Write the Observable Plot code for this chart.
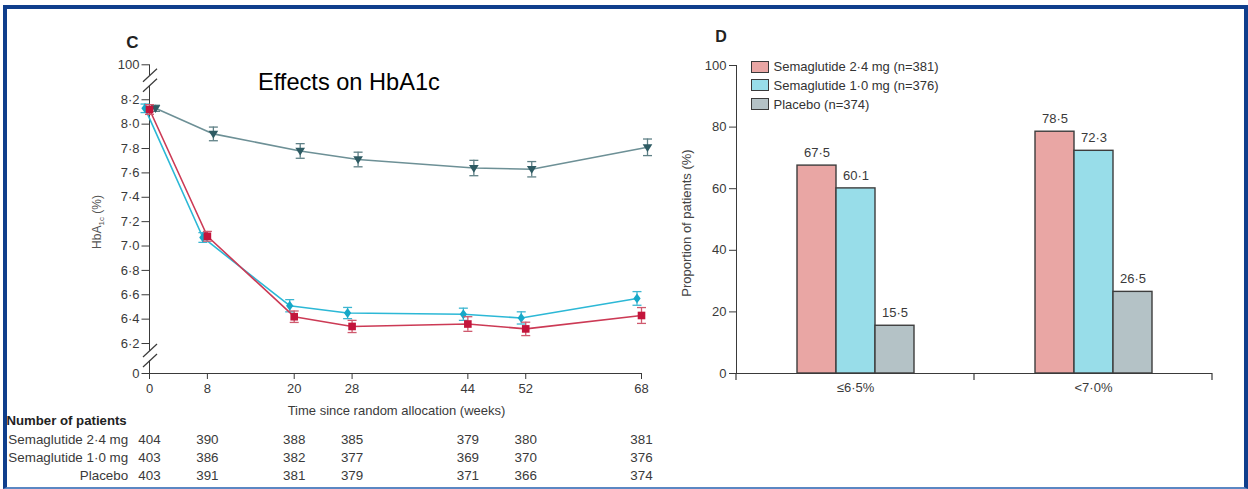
<!DOCTYPE html>
<html>
<head>
<meta charset="utf-8">
<script src="https://cdn.jsdelivr.net/npm/d3@7"></script>
<script src="https://cdn.jsdelivr.net/npm/@observablehq/plot@0.6"></script>
<style>
  html, body { margin: 0; padding: 0; background: #fff; width: 1248px; height: 489px; overflow: hidden;
    font-family: "Liberation Sans", Arial, sans-serif; }
  #frame { position: absolute; left: 3px; top: 5px; width: 1245px; height: 484px; box-sizing: border-box;
    border: 4px solid #0f3e8c; border-bottom: 2px solid #5b87c3; }
  .lg-row { position: absolute; display: flex; align-items: center; height: 18px; font-size: 13px; color: #333; white-space: nowrap; }
  .lg-sw { width: 18px; height: 12px; box-sizing: border-box; border: 1.4px solid #3a3a3a; margin-right: 5px; }
</style>
</head>
<body>
<div id="frame"></div>
<script>
// ---------------- Data ----------------
const weeks = [0, 8, 20, 28, 44, 52, 68];
const seriesNames = ["Semaglutide 2·4 mg", "Semaglutide 1·0 mg", "Placebo"];

// Panel C: mean HbA1c (%) and error-bar half widths
const hba1c_sema24  = [8.12, 7.08, 6.42, 6.34, 6.36, 6.32, 6.43];
const hba1c_sema10  = [8.13, 7.07, 6.51, 6.45, 6.44, 6.41, 6.57];
const hba1c_placebo = [8.13, 7.92, 7.78, 7.71, 7.64, 7.63, 7.81];
const err_sema24  = [0.04, 0.04, 0.047, 0.05, 0.06, 0.055, 0.065];
const err_sema10  = [0.035, 0.04, 0.05, 0.046, 0.05, 0.05, 0.056];
const err_placebo = [0.025, 0.056, 0.06, 0.06, 0.063, 0.063, 0.068];

// Number of patients at each visit
const n_sema24  = [404, 390, 388, 385, 379, 380, 381];
const n_sema10  = [403, 386, 382, 377, 369, 370, 376];
const n_placebo = [403, 391, 381, 379, 371, 366, 374];

// Axis ticks (panel C has a broken axis: 0 … 6·2–8·2 … 100)
const yTicksC = [0, 6.2, 6.4, 6.6, 6.8, 7.0, 7.2, 7.4, 7.6, 7.8, 8.0, 8.2, 100];
const xTicksC = [0, 8, 20, 28, 44, 52, 68];

// Panel D: proportion of patients (%)
const barCategories = ["≤6·5%", "<7·0%"];
const bar_sema24  = [67.5, 78.5];
const bar_sema10  = [60.1, 72.3];
const bar_placebo = [15.5, 26.5];
const legendLabels = ["Semaglutide 2·4 mg (n=381)", "Semaglutide 1·0 mg (n=376)", "Placebo (n=374)"];
const yTicksD = [0, 20, 40, 60, 80, 100];

// ---------------- Styles ----------------
const FONT = '"Liberation Sans", Arial, sans-serif';
const TXT = "#3a3a3a";
const fmtDot = d => (d === 0 || d === 100) ? String(d) : d.toFixed(1).replace(".", "·");

// broken axis: the two breaks take a fixed share of the visible 6·2–8·2 span
const BREAK_HI = 0.287, BREAK_LO = 0.246;
const brokenY = v => v > 8.2 ? 8.2 + (v - 8.2) / (100 - 8.2) * BREAK_HI
                   : v < 6.2 ? 6.2 - (6.2 - v) / 6.2 * BREAK_LO : v;
const yTickPos = yTicksC.map(brokenY);
const yTickLabel = new Map(yTickPos.map((p, i) => [p, fmtDot(yTicksC[i])]));

const capSym = { draw(ctx, size) { const r = Math.sqrt(size / Math.PI); ctx.moveTo(-r, 0); ctx.lineTo(r, 0); } };
const triDown = { draw(ctx, size) { const r = Math.sqrt(size / Math.PI); ctx.moveTo(-r * 1.15, -r * 0.75); ctx.lineTo(r * 1.15, -r * 0.75); ctx.lineTo(0, r * 1.1); ctx.closePath(); } };
const diamondSym = { draw(ctx, size) { const r = Math.sqrt(size / Math.PI); ctx.moveTo(0, -r * 1.15); ctx.lineTo(r * 0.85, 0); ctx.lineTo(0, r * 1.15); ctx.lineTo(-r * 0.85, 0); ctx.closePath(); } };

const lineStyles = [
  { marker: "#c3143b", line: "#cc3a55", err: "#cf5a6e", symbol: "square",   r: 4.3, dx: 0 },
  { marker: "#17a8c8", line: "#2cb8d6", err: "#3db6d1", symbol: diamondSym, r: 4.3, dx: -4.5 },
  { marker: "#2e5b63", line: "#6d9096", err: "#5f8086", symbol: triDown,    r: 4.2, dx: 6 }
];
const barColors = ["#e9a6a4", "#98dde9", "#b4c2c6"];

const hbValues = [hba1c_sema24, hba1c_sema10, hba1c_placebo];
const hbErr = [err_sema24, err_sema10, err_placebo];
const nValues = [n_sema24, n_sema10, n_placebo];

// ---------------- Panel C: line chart ----------------
const marksC = [];
for (const i of [2, 1, 0]) {
  const rows = weeks.map((w, k) => ({ series: seriesNames[i], week: w, v: hbValues[i][k], e: hbErr[i][k] }));
  const st = lineStyles[i];
  marksC.push(
    Plot.line(rows, { x: "week", y: d => brokenY(d.v), stroke: st.line, strokeWidth: 1.6, dx: st.dx }),
    Plot.ruleX(rows, { x: "week", y1: d => brokenY(d.v - d.e), y2: d => brokenY(d.v + d.e), stroke: st.err, strokeWidth: 1.3, dx: st.dx }),
    Plot.dot(rows, { x: "week", y: d => brokenY(d.v + d.e), symbol: capSym, r: 4.5, stroke: st.err, strokeWidth: 1.3, fill: "none", dx: st.dx }),
    Plot.dot(rows, { x: "week", y: d => brokenY(d.v - d.e), symbol: capSym, r: 4.5, stroke: st.err, strokeWidth: 1.3, fill: "none", dx: st.dx }),
    Plot.dot(rows, { x: "week", y: d => brokenY(d.v), symbol: st.symbol, r: st.r, fill: st.marker, stroke: "none", dx: st.dx })
  );
}

const chartC = Plot.plot({
  width: 680, height: 420,
  marginLeft: 149, marginRight: 39, marginTop: 64.3, marginBottom: 47,
  style: { background: "transparent", fontFamily: FONT, fontSize: "13px", color: TXT },
  x: { domain: [0, 68], ticks: xTicksC, tickSize: 6, tickPadding: 4, label: null, line: true },
  y: { domain: [brokenY(0), brokenY(100)], ticks: yTickPos, tickFormat: p => yTickLabel.get(p) ?? "",
       tickSize: 7.5, tickPadding: 2.5, label: null, line: true },
  marks: marksC
});
chartC.style.position = "absolute"; chartC.style.left = "0px"; chartC.style.top = "0px";
document.body.appendChild(chartC);

{
  const svg = d3.select(chartC);
  const ys = chartC.scale("y");
  const ax = chartC.scale("x").apply(0);
  // axis breaks
  const centers = [(ys.apply(brokenY(8.2)) + ys.apply(brokenY(100))) / 2 - 1.5,
                   (ys.apply(brokenY(0)) + ys.apply(brokenY(6.2))) / 2 - 2.5];
  for (const c of centers) {
    svg.append("rect").attr("x", ax - 2).attr("y", c - 5).attr("width", 4).attr("height", 10).attr("fill", "#fff");
    for (const o of [-5, 5]) {
      svg.append("line").attr("x1", ax - 6).attr("y1", c + o + 6.5).attr("x2", ax + 8).attr("y2", c + o - 6.5)
        .attr("stroke", TXT).attr("stroke-width", 1.2);
    }
  }
  // y label with subscript
  const yl = svg.append("text").attr("transform", "translate(101,222) rotate(-90)").attr("text-anchor", "middle")
    .attr("font-size", 12).attr("fill", "#555").attr("font-family", FONT);
  yl.append("tspan").text("HbA");
  yl.append("tspan").attr("font-size", 8).attr("dy", 3).text("1c");
  yl.append("tspan").attr("dy", -3).text(" (%)");
  // x label
  svg.append("text").attr("x", 396.5).attr("y", 414.5).attr("text-anchor", "middle").attr("font-size", 13)
    .attr("fill", TXT).attr("font-family", FONT).text("Time since random allocation (weeks)");
  // panel letter and title
  svg.append("text").attr("x", 132.5).attr("y", 48).attr("text-anchor", "middle").attr("font-size", 17)
    .attr("font-weight", "bold").attr("fill", "#222").attr("font-family", FONT).text("C");
  svg.append("text").attr("x", 258).attr("y", 90).attr("text-anchor", "start").attr("font-size", 23.6)
    .attr("fill", "#000").attr("font-family", FONT).text("Effects on HbA1c");
}

// ---------------- Number of patients table ----------------
const tableRows = [];
seriesNames.forEach((s, i) => weeks.forEach((w, k) => tableRows.push({ series: s, week: w, n: nValues[i][k] })));

const tableC = Plot.plot({
  width: 680, height: 80,
  marginLeft: 149, marginRight: 39, marginTop: 20.75, marginBottom: 3.75,
  style: { background: "transparent", fontFamily: FONT, fontSize: "13.4px", color: TXT },
  x: { domain: [0, 68], axis: null },
  y: { type: "point", domain: seriesNames, padding: 0.5, tickSize: 0, tickPadding: 21.3, label: null },
  marks: [
    Plot.text(tableRows, { x: "week", y: "series", text: d => String(d.n), fontSize: 13.4, fill: TXT })
  ]
});
tableC.style.position = "absolute"; tableC.style.left = "0px"; tableC.style.top = "408px";
document.body.appendChild(tableC);
d3.select(tableC).append("text").attr("x", 6.5).attr("y", 16.6).attr("text-anchor", "start").attr("font-size", 13.2)
  .attr("font-weight", "bold").attr("fill", "#222").attr("font-family", FONT).text("Number of patients");

// ---------------- Panel D: grouped bars ----------------
const barVals = [bar_sema24, bar_sema10, bar_placebo];
const barData = [];
barCategories.forEach((c, j) => seriesNames.forEach((s, i) => barData.push({ cat: c, series: s, value: barVals[i][j] })));

const chartD = Plot.plot({
  width: 568, height: 420,
  marginLeft: 56, marginRight: 36, marginTop: 65, marginBottom: 47,
  style: { background: "transparent", fontFamily: FONT, fontSize: "13px", color: TXT },
  fx: { domain: barCategories, padding: 0, label: null, tickSize: 0, tickPadding: 9, axis: "bottom" },
  x: { domain: seriesNames, paddingInner: 0, paddingOuter: 1.545, axis: null },
  y: { domain: [0, 100], ticks: yTicksD, tickSize: 7, tickPadding: 3, label: null, line: true },
  color: { domain: seriesNames, range: barColors },
  marks: [
    Plot.barY(barData, { fx: "cat", x: "series", y: "value", fill: "series", stroke: "#3d3d3d", strokeWidth: 1.4 }),
    Plot.text(barData, { fx: "cat", x: "series", y: "value", text: d => fmtDot(d.value), dy: -13, fontSize: 13, fill: TXT }),
    Plot.ruleY([0], { stroke: TXT, strokeWidth: 1.2 })
  ]
});
chartD.style.position = "absolute"; chartD.style.left = "680px"; chartD.style.top = "0px";
document.body.appendChild(chartD);

{
  const svg = d3.select(chartD);
  const fx = chartD.scale("fx");
  const y0 = chartD.scale("y").apply(0);
  const bounds = barCategories.map(c => fx.apply(c));
  bounds.push(fx.apply(barCategories[barCategories.length - 1]) + fx.bandwidth);
  for (const b of bounds) {
    svg.append("line").attr("x1", b).attr("x2", b).attr("y1", y0).attr("y2", y0 + 7).attr("stroke", TXT).attr("stroke-width", 1.2);
  }
  svg.append("text").attr("transform", "translate(6.7,223) rotate(-90)").attr("text-anchor", "middle")
    .attr("dy", "0.35em").attr("font-size", 13).attr("fill", "#444").attr("font-family", FONT).text("Proportion of patients (%)");
  svg.append("text").attr("x", 41).attr("y", 41.7).attr("text-anchor", "middle").attr("font-size", 16)
    .attr("font-weight", "bold").attr("fill", "#222").attr("font-family", FONT).text("D");
}

// legend
legendLabels.forEach((lab, i) => {
  const row = document.createElement("div");
  row.className = "lg-row";
  row.style.left = "750.5px";
  row.style.top = (57.5 + i * 18.8) + "px";
  const sw = document.createElement("span");
  sw.className = "lg-sw"; sw.style.background = barColors[i];
  const t = document.createElement("span");
  t.textContent = lab;
  row.appendChild(sw); row.appendChild(t);
  document.body.appendChild(row);
});
</script>
</body>
</html>
